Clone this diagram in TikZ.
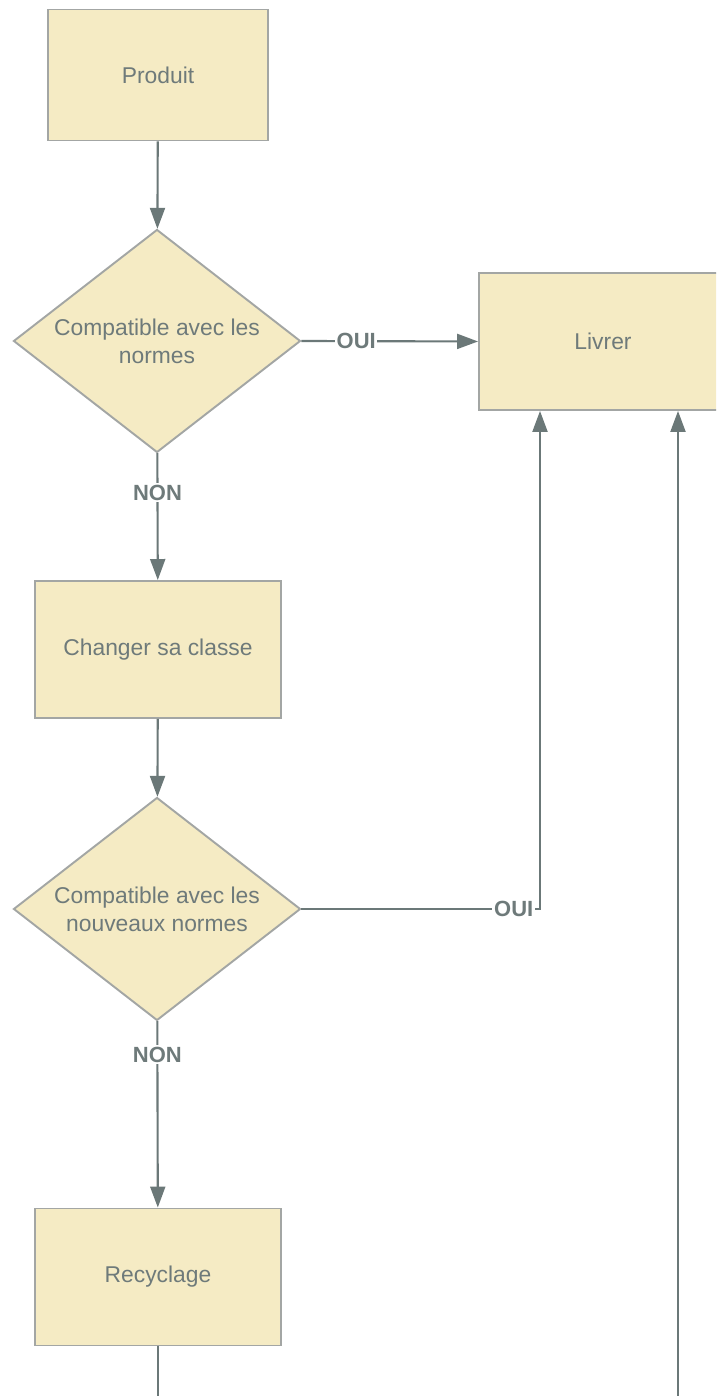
\documentclass[tikz,border=0pt]{standalone}
\usepackage{fontspec}
\setmainfont{Liberation Sans}
\usetikzlibrary{shapes.geometric,arrows.meta}
\definecolor{fondbeige}{HTML}{F5EBC4}
\definecolor{bordgris}{HTML}{A3A6A4}
\definecolor{flechegris}{HTML}{6B7878}
\definecolor{textegris}{HTML}{6E7A7A}
\tikzset{
  boite/.style={draw=bordgris, line width=1.1pt, fill=fondbeige, text=textegris,
    minimum width=4.92cm, minimum height=2.74cm, inner sep=0pt,
    font=\fontsize{13}{16}\selectfont},
  losange/.style={diamond, aspect=1.29, draw=bordgris, line width=1.1pt, fill=fondbeige, text=textegris,
    minimum width=5.74cm, minimum height=4.46cm, inner sep=0pt, align=center,
    font=\fontsize{13}{16}\selectfont},
  fleche/.style={draw=flechegris, line width=1.2pt, -{Triangle[length=0.42cm,width=0.3cm]}},
  choix/.style={fill=white, text=textegris, inner sep=1pt,
    font=\fontsize{12.5}{15}\selectfont\bfseries}
}
\begin{document}
\begin{tikzpicture}
        \useasboundingbox (0,0) rectangle (14.32,27.92);
        \clip (0,0) rectangle (14.32,27.92);
        %etapes
        \node[boite, minimum width=4.4cm, minimum height=2.62cm] (produit) at (3.16,26.42) {Produit};
        \node[losange] (norme1) at (3.14,21.1) {Compatible avec les\\normes};
        \node[boite, minimum width=4.96cm] (livrer) at (12.06,21.09) {Livrer};
        \node[boite] (changer) at (3.16,14.93) {Changer sa classe};
        \node[losange] (norme2) at (3.14,9.74) {Compatible avec les\\nouveaux normes};
        \node[boite] (recyclage) at (3.16,2.38) {Recyclage};
        %coins
        \coordinate (coin1) at (10.8,9.74);
        \coordinate (coin2) at (13.56,-1);
        %fleches
        \draw[fleche] (produit) -- (norme1);
        \draw[fleche] (norme1.east) -- node[choix, pos=0.31] {OUI} (livrer.west);
        \draw[fleche] (norme1) -- node[choix, pos=0.31] {NON} (changer);
        \draw[fleche] (changer) -- (norme2);
        \draw[fleche] (norme2.east) -- node[choix, pos=0.89] {OUI} (coin1) -- (coin1 |- livrer.south);
        \draw[fleche] (norme2) -- node[choix, pos=0.18] {NON} (recyclage);
        %retour
        \draw[fleche] (recyclage.south) |- (coin2) -- (coin2 |- livrer.south);
    \end{tikzpicture}
\end{document}
